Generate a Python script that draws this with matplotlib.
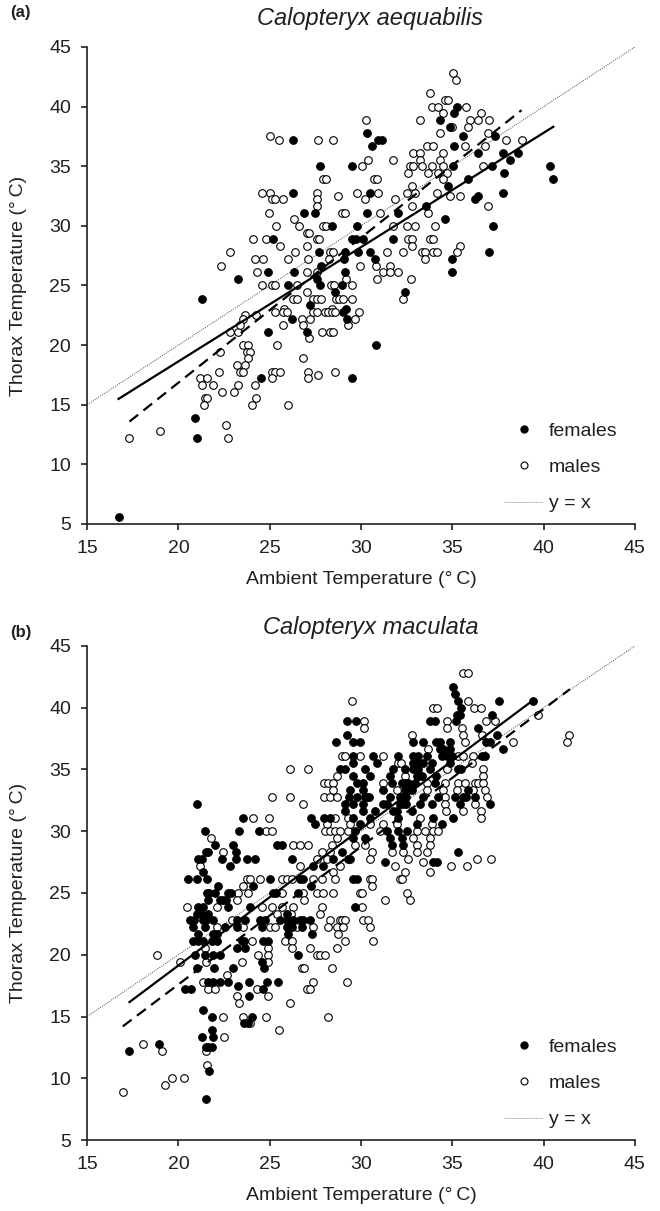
import numpy as np
import matplotlib
matplotlib.use('Agg')
import matplotlib.pyplot as plt
from matplotlib.lines import Line2D

plt.rcParams['font.family'] = ['Liberation Sans', 'DejaVu Sans']

INK = '#231f20'

# ---------------- DATA: panel (a) Calopteryx aequabilis ----------------
a_females = [
    (26.26, 37.22), (27.75, 35.0), (26.26, 32.78), (26.88, 31.11), (27.48, 31.11),
    (28.39, 30.0), (25.2, 28.89), (27.72, 27.78), (29.12, 27.78), (27.79, 26.67),
    (29.07, 27.22), (24.89, 26.11), (26.33, 26.11), (29.12, 26.11), (23.28, 25.56),
    (27.57, 25.56), (25.98, 25.0), (27.75, 25.0), (28.94, 25.0), (21.28, 23.89),
    (28.58, 24.44), (27.2, 23.33), (29.2, 23.0),
    (35.27, 40.0), (35.11, 39.44), (34.32, 38.89), (30.34, 37.78), (30.95, 37.22),
    (31.17, 37.22), (30.58, 36.67), (34.87, 38.33), (37.33, 37.5), (35.6, 37.5),
    (35.09, 36.67), (36.42, 36.11), (37.75, 36.11), (38.15, 35.56), (38.61, 36.11),
    (40.34, 35.0), (40.53, 33.89), (35.05, 35.0), (37.15, 35.0), (29.49, 35.0),
    (37.83, 34.44), (35.87, 33.89), (34.78, 33.33), (30.49, 32.78), (37.79, 32.78),
    (33.56, 31.67), (36.24, 32.22), (36.42, 32.5), (30.34, 31.11), (32.04, 31.11),
    (29.8, 30.0), (34.6, 30.56), (37.24, 30.0), (29.49, 28.89), (29.7, 28.89),
    (30.12, 28.89), (31.77, 28.89), (29.85, 27.78), (30.49, 27.78), (37.02, 27.78),
    (30.76, 27.22), (34.96, 27.22), (34.96, 26.11), (32.41, 24.44),
    (26.24, 22.22), (29.03, 22.78), (29.22, 22.22), (27.03, 21.11), (24.93, 21.11),
    (24.51, 17.22), (29.49, 17.22), (30.82, 20.0), (20.91, 13.89), (21.0, 12.22),
    (16.72, 5.56),
]
a_males = [
    (25.02, 37.5), (25.51, 37.22), (27.66, 37.22), (28.45, 37.22), (27.94, 33.89),
    (28.1, 33.89), (24.56, 32.78), (25.02, 32.78), (27.61, 32.78), (25.11, 32.22),
    (25.28, 32.22), (25.75, 32.22), (27.61, 32.22), (28.72, 32.5), (27.61, 31.67),
    (24.98, 31.11), (28.94, 31.11), (29.12, 31.11), (25.35, 30.0), (26.33, 30.56),
    (26.62, 30.0), (27.9, 30.0), (28.08, 30.0), (27.02, 29.44), (27.17, 29.44),
    (24.1, 28.89), (24.78, 28.89), (27.57, 28.89), (27.72, 28.89), (25.56, 28.33),
    (27.02, 28.33), (22.83, 27.78), (26.39, 27.78), (28.3, 27.78), (28.48, 27.78),
    (22.33, 26.67), (24.2, 27.22), (24.65, 27.22), (26.02, 27.22), (27.12, 27.22),
    (28.26, 27.22), (24.29, 26.11), (27.02, 26.11), (27.57, 26.11), (29.18, 25.56),
    (24.56, 25.0), (25.11, 25.0), (25.29, 25.0), (26.48, 25.0), (28.34, 25.0),
    (28.52, 25.0), (26.26, 23.89), (26.48, 23.89), (27.39, 23.89), (27.61, 23.89),
    (27.81, 23.89), (28.63, 23.89), (28.81, 23.89), (28.99, 23.89), (27.02, 24.44),
    (25.8, 23.0), (28.39, 23.0),
    (35.02, 42.78), (35.2, 42.22), (33.77, 41.11), (33.87, 40.0), (34.23, 40.0),
    (34.6, 40.56), (34.78, 40.56), (35.75, 40.0), (34.5, 39.44), (36.55, 39.44),
    (30.27, 38.89), (33.23, 38.89), (35.97, 38.89), (36.42, 38.89), (37.02, 38.89),
    (34.96, 38.33), (35.87, 38.33), (34.3, 37.78), (36.97, 37.78), (37.94, 37.22),
    (38.79, 37.22), (33.59, 36.67), (33.92, 36.67), (35.69, 36.67), (36.79, 36.67),
    (32.86, 36.11), (33.23, 36.11), (34.5, 36.11), (33.23, 35.56), (34.32, 35.56),
    (30.4, 35.56), (31.73, 35.56), (32.68, 35.0), (32.86, 35.0), (33.32, 35.0),
    (33.87, 35.0), (34.5, 35.0), (36.69, 35.0), (30.03, 35.0), (32.59, 34.44),
    (33.68, 34.44), (34.23, 34.44), (34.72, 34.44), (30.71, 33.89), (30.86, 33.89),
    (34.5, 33.89), (32.77, 33.33), (29.76, 32.78), (30.95, 32.78), (32.53, 32.78),
    (32.95, 32.78), (34.18, 32.78), (30.22, 32.22), (31.86, 32.22), (34.87, 32.5),
    (35.42, 32.5), (36.97, 31.67), (32.77, 31.67), (31.04, 31.11), (33.68, 31.11),
    (31.77, 30.0), (32.5, 30.0), (32.95, 30.0), (34.05, 30.0), (32.59, 28.89),
    (32.77, 28.89), (33.77, 28.89), (33.96, 28.89), (31.4, 27.78), (32.32, 27.78),
    (32.77, 28.33), (33.32, 27.78), (33.5, 27.78), (33.96, 27.78), (34.14, 27.78),
    (33.5, 27.22), (35.42, 28.33), (35.23, 27.78), (29.94, 26.67), (30.82, 26.67),
    (31.58, 26.67), (31.22, 26.11), (31.58, 26.11), (32.04, 26.11), (30.85, 25.56),
    (32.72, 25.56), (29.49, 25.0), (29.49, 23.89), (32.28, 23.89),
    (25.29, 22.78), (25.75, 22.78), (25.93, 22.78), (26.75, 22.22), (27.21, 22.22),
    (27.39, 22.78), (27.57, 22.78), (28.03, 22.78), (28.21, 22.78), (28.39, 22.78),
    (28.58, 22.78), (29.91, 22.78), (29.67, 22.22), (29.31, 21.67), (23.65, 22.5),
    (23.56, 22.22), (24.23, 22.5), (25.75, 21.67), (26.84, 21.67), (27.17, 20.56),
    (27.85, 21.11), (28.3, 21.11), (28.48, 21.11), (22.83, 21.11), (23.28, 21.11),
    (23.38, 21.67), (25.42, 20.0), (23.52, 20.0), (23.83, 20.0), (23.74, 19.44),
    (23.92, 19.44), (22.28, 19.44), (23.83, 18.89), (23.19, 18.33), (23.65, 18.33),
    (23.38, 17.78), (23.55, 17.78), (22.24, 17.78), (21.19, 17.22), (21.55, 17.22),
    (21.28, 16.67), (21.92, 16.67), (23.28, 16.67), (21.46, 15.56), (21.55, 15.56),
    (21.41, 15.0), (22.37, 16.11), (23.05, 16.11), (24.2, 16.67), (24.01, 15.0),
    (24.23, 15.56), (25.11, 17.78), (25.29, 17.78), (25.57, 17.78), (25.11, 17.22),
    (26.84, 18.89), (27.12, 17.78), (27.12, 17.22), (27.66, 17.5), (28.58, 17.78),
    (26.02, 15.0), (17.32, 12.22), (18.99, 12.78), (22.61, 13.33), (22.74, 12.22),
]
# fitted lines (end points)
a_fit_solid_x = [16.72, 40.53]
a_fit_solid_y = [15.49, 38.31]
a_fit_dash_x = [17.32, 38.79]
a_fit_dash_y = [13.59, 39.7]

# ---------------- DATA: panel (b) Calopteryx maculata ----------------
b_females = [
    (29.25, 38.89), (29.25, 37.78), (28.63, 37.22), (28.85, 35.0), (29.12, 35.0),
    (29.36, 32.78), (21.0, 32.22), (29.12, 32.22), (29.12, 31.67), (23.56, 31.11),
    (27.24, 31.11), (27.97, 31.11), (28.3, 31.11), (27.48, 30.56), (21.46, 30.0),
    (23.34, 30.0), (24.43, 30.0), (22.01, 28.89), (23.01, 28.89), (25.38, 28.89),
    (25.65, 28.89), (21.5, 28.33), (21.64, 28.33), (23.16, 28.33), (28.94, 28.33),
    (21.09, 27.78), (21.28, 27.78), (22.37, 27.78), (23.16, 27.78), (23.74, 27.78),
    (24.2, 27.78), (26.2, 27.78), (28.48, 27.78), (29.3, 27.78), (22.83, 27.22),
    (27.39, 27.22), (27.94, 27.22), (21.37, 26.67), (20.55, 26.11), (21.0, 26.11),
    (21.59, 26.11), (25.02, 26.11), (26.66, 26.11), (26.8, 26.11), (22.19, 25.56),
    (24.1, 25.56), (27.24, 25.56), (21.55, 25.0), (21.68, 25.0), (22.01, 25.0),
    (22.74, 25.0), (22.9, 25.0), (25.2, 25.0), (25.35, 25.0), (26.56, 25.0),
    (35.02, 41.67), (35.14, 41.11), (35.33, 40.56), (37.57, 40.56), (39.4, 40.56),
    (35.45, 40.0), (35.23, 39.44), (35.42, 39.44), (37.15, 39.44), (29.72, 38.89),
    (33.77, 38.89), (34.05, 38.89), (35.2, 38.89), (36.42, 38.33), (37.42, 37.78),
    (29.58, 37.22), (29.94, 37.22), (32.86, 37.22), (33.41, 37.22), (34.1, 37.22),
    (34.32, 37.22), (34.87, 37.22), (36.84, 37.22), (37.06, 37.22), (34.32, 36.67),
    (34.5, 36.67), (34.87, 36.67), (37.75, 36.67), (29.58, 36.11), (30.67, 36.11),
    (32.04, 36.11), (32.86, 36.11), (33.14, 36.11), (33.59, 36.11), (34.41, 36.11),
    (34.69, 36.11), (34.96, 36.11), (36.6, 36.11), (36.79, 36.11), (29.58, 35.56),
    (30.85, 35.56), (32.86, 35.56), (33.14, 35.56), (33.41, 35.56), (33.87, 35.56),
    (34.87, 35.56), (30.22, 35.0), (31.77, 35.0), (32.41, 35.0), (32.86, 35.0),
    (33.0, 35.0), (33.14, 35.0), (33.77, 35.0), (35.33, 35.0), (35.5, 35.0),
    (29.58, 34.44), (30.49, 34.44), (31.58, 34.44), (33.05, 34.44), (33.2, 34.44),
    (33.35, 34.44), (34.1, 34.44), (29.76, 33.89), (30.12, 33.89), (31.68, 33.89),
    (32.22, 33.89), (32.4, 33.89), (32.55, 33.89), (32.95, 33.89), (34.05, 33.89),
    (29.4, 33.33), (30.12, 33.33), (31.22, 33.33), (32.41, 33.33), (32.59, 33.33),
    (32.77, 33.33), (35.87, 33.33), (29.76, 32.78), (30.22, 32.78), (30.31, 32.78),
    (30.45, 32.78), (31.58, 32.78), (32.13, 32.78), (32.3, 32.78), (32.45, 32.78),
    (33.41, 32.78), (34.23, 32.78), (35.14, 32.78), (35.6, 32.78), (35.75, 32.78),
    (36.24, 32.78), (29.58, 32.22), (30.12, 32.22), (31.22, 32.22), (31.4, 32.22),
    (32.13, 32.22), (32.3, 32.22), (32.45, 32.22), (33.23, 32.22), (33.87, 32.22),
    (35.42, 32.22), (37.06, 32.22), (30.12, 31.67), (30.76, 31.67), (31.77, 31.67),
    (31.95, 31.67), (32.77, 31.67), (29.58, 31.11), (30.49, 31.11), (32.04, 31.11),
    (33.96, 31.11), (35.05, 31.11), (29.94, 30.56), (33.05, 30.56), (34.41, 30.56),
    (29.67, 30.0), (31.4, 30.0), (32.04, 30.0), (32.5, 30.0), (29.58, 29.44),
    (30.22, 29.44), (31.58, 29.44), (32.22, 29.44), (31.68, 28.89), (32.32, 28.89),
    (35.33, 28.33), (29.4, 27.78), (31.31, 27.5), (33.96, 27.5), (34.14, 27.5),
    (29.58, 26.11), (29.76, 26.11),
    (21.64, 24.44), (22.3, 24.44), (22.46, 24.44), (22.6, 24.44), (21.09, 23.89),
    (21.33, 23.89), (22.74, 23.89), (23.92, 23.89), (29.67, 23.89), (21.0, 23.33),
    (21.22, 23.33), (21.64, 23.33), (25.93, 23.33), (20.64, 22.78), (20.86, 22.78),
    (21.37, 22.78), (21.5, 22.78), (21.92, 22.78), (23.19, 22.78), (23.65, 22.78),
    (24.47, 22.78), (24.75, 22.78), (25.57, 22.78), (25.93, 22.78), (26.3, 22.78),
    (26.66, 22.78), (26.8, 22.78), (27.21, 22.78), (20.82, 22.22), (21.46, 22.22),
    (22.55, 22.22), (23.19, 22.22), (24.56, 22.22), (25.93, 22.22), (26.05, 22.22),
    (26.2, 22.22), (26.75, 22.22), (21.09, 21.67), (21.92, 21.67), (22.1, 21.67),
    (26.02, 21.67), (27.3, 21.67), (20.82, 21.11), (21.09, 21.11), (21.37, 21.11),
    (21.82, 21.11), (22.1, 21.11), (23.47, 21.11), (23.6, 21.11), (24.65, 21.11),
    (24.93, 21.11), (23.19, 20.56), (23.65, 20.56), (20.91, 20.0), (21.46, 20.0),
    (21.92, 20.0), (22.28, 20.0), (26.57, 20.0), (24.56, 19.44), (21.04, 18.89),
    (21.95, 18.89), (22.97, 18.89), (24.69, 18.89), (21.64, 17.78), (21.92, 17.78),
    (22.28, 17.78), (22.74, 17.78), (23.28, 17.5), (23.87, 17.78), (24.84, 17.78),
    (25.47, 17.78), (20.37, 17.22), (20.68, 17.22), (24.65, 17.22), (23.87, 16.67),
    (21.33, 15.56), (21.86, 15.0), (24.01, 15.0), (23.6, 14.44), (23.83, 14.44),
    (21.86, 13.89), (21.3, 13.33), (21.92, 13.33), (18.94, 12.78), (21.51, 12.5),
    (21.64, 12.5), (21.82, 12.5), (17.3, 12.22), (21.7, 10.56), (21.51, 8.33),
]
b_males = [
    (29.49, 40.56), (28.94, 36.11), (29.12, 36.11), (26.11, 35.0), (27.12, 35.0),
    (28.67, 34.44), (27.97, 33.89), (28.21, 33.89), (28.48, 33.89), (28.48, 33.33),
    (25.11, 32.78), (26.11, 32.78), (27.97, 32.78), (28.3, 32.78), (28.67, 32.78),
    (26.8, 32.22), (24.07, 31.11), (24.98, 31.11), (28.57, 31.11), (29.3, 31.11),
    (28.12, 30.56), (24.8, 30.0), (25.11, 30.0), (28.03, 30.0), (28.3, 30.0),
    (28.57, 30.0), (28.85, 30.0), (29.3, 30.0), (21.79, 29.44), (28.7, 29.44),
    (26.26, 28.89), (26.66, 28.89), (27.12, 28.89), (28.39, 28.89), (22.46, 28.33),
    (27.84, 28.33), (28.3, 28.33), (27.57, 27.78), (28.12, 27.78), (21.18, 27.22),
    (26.66, 27.22), (28.85, 27.22), (28.48, 26.67), (23.74, 26.11), (23.92, 26.11),
    (24.47, 26.11), (25.65, 26.11), (25.93, 26.11), (26.2, 26.11), (27.39, 26.11),
    (27.84, 26.11), (28.57, 26.11), (23.56, 25.56), (23.28, 25.0), (23.83, 25.0),
    (25.65, 25.0), (26.84, 25.0), (27.57, 25.0), (27.94, 25.0), (28.48, 25.0),
    (35.6, 42.78), (35.87, 42.78), (35.87, 40.56), (33.96, 40.0), (34.14, 40.0),
    (36.18, 40.0), (36.57, 40.0), (39.67, 39.44), (30.16, 38.89), (34.69, 38.89),
    (36.84, 38.89), (37.33, 38.89), (30.16, 38.33), (34.69, 38.33), (35.51, 38.33),
    (32.77, 37.78), (35.6, 37.78), (36.6, 37.78), (41.4, 37.78), (35.69, 37.22),
    (38.3, 37.22), (41.26, 37.22), (33.68, 36.67), (29.94, 36.11), (31.22, 36.11),
    (35.33, 36.11), (35.6, 36.11), (36.15, 36.11), (32.04, 35.56), (32.2, 35.56),
    (36.06, 35.56), (34.69, 35.0), (36.66, 35.0), (32.41, 34.44), (36.66, 34.44),
    (31.22, 33.89), (33.59, 33.89), (34.6, 33.89), (35.33, 33.89), (35.69, 33.89),
    (36.24, 33.89), (36.4, 33.89), (36.69, 33.89), (31.95, 33.33), (33.59, 33.33),
    (34.5, 33.33), (35.23, 33.33), (36.15, 33.33), (36.79, 33.33), (34.6, 32.78),
    (36.88, 32.78), (34.6, 32.22), (36.24, 32.22), (34.65, 31.67), (35.56, 31.67),
    (36.55, 31.67), (33.23, 31.11), (36.55, 31.11), (29.4, 30.56), (30.49, 30.56),
    (31.22, 30.56), (31.95, 30.56), (33.87, 30.56), (31.04, 30.0), (33.05, 30.0),
    (33.5, 30.0), (33.96, 30.0), (34.23, 30.0), (32.86, 29.44), (33.77, 29.44),
    (29.67, 28.89), (30.22, 28.89), (33.05, 28.89), (33.77, 28.89), (30.58, 28.33),
    (31.68, 28.33), (32.32, 28.33), (33.05, 28.33), (33.59, 28.33), (30.49, 27.78),
    (32.59, 27.78), (36.37, 27.78), (37.1, 27.78), (31.86, 27.22), (33.41, 27.5),
    (34.92, 27.22), (35.78, 27.22), (32.41, 26.67), (33.77, 26.67), (30.49, 26.11),
    (30.6, 26.11), (32.13, 26.11), (32.25, 26.11), (30.58, 25.56), (29.94, 25.0),
    (30.05, 25.0), (32.5, 25.0), (31.31, 24.44), (32.68, 24.44),
    (23.19, 24.44), (26.88, 24.44), (20.46, 23.89), (22.1, 23.89), (24.56, 23.89),
    (25.11, 23.89), (25.66, 23.89), (26.3, 23.89), (27.85, 23.89), (30.04, 23.89),
    (25.38, 23.33), (26.15, 23.33), (27.76, 23.33), (22.92, 22.78), (28.3, 22.78),
    (28.85, 22.78), (28.95, 22.78), (29.12, 22.78), (30.13, 22.78), (30.4, 22.78),
    (22.1, 22.22), (23.56, 22.22), (25.02, 22.22), (25.29, 22.22), (26.48, 22.22),
    (27.39, 22.22), (28.21, 22.22), (28.67, 22.22), (29.03, 22.22), (30.49, 22.22),
    (28.76, 21.67), (24.01, 21.11), (25.84, 21.11), (26.2, 21.11), (29.12, 21.11),
    (30.68, 21.11), (21.46, 20.56), (24.93, 20.56), (26.2, 20.56), (27.21, 20.56),
    (28.67, 20.56), (18.81, 20.0), (24.38, 20.0), (24.93, 20.0), (27.57, 20.0),
    (27.76, 20.0), (28.03, 20.0), (20.06, 19.44), (21.51, 19.44), (23.47, 19.44),
    (24.93, 19.44), (26.75, 18.89), (26.88, 18.89), (28.43, 18.89), (22.65, 18.33),
    (21.37, 17.78), (27.39, 17.78), (29.22, 17.78), (21.64, 17.22), (22.01, 17.22),
    (24.29, 17.22), (27.03, 17.22), (27.21, 17.22), (23.23, 16.67), (24.93, 16.67),
    (23.34, 16.11), (26.11, 16.11), (22.46, 15.0), (23.56, 15.0), (24.8, 15.0),
    (28.21, 15.0), (23.9, 14.44), (25.53, 13.89), (22.5, 13.33), (18.08, 12.78),
    (19.12, 12.22), (21.51, 12.22), (21.55, 11.11), (19.64, 10.0), (20.31, 10.0),
    (19.27, 9.44), (16.95, 8.89),
]
b_fit_solid_x = [17.32, 39.4]
b_fit_solid_y = [16.17, 40.58]
b_fit_dash_x = [16.95, 41.44]
b_fit_dash_y = [14.2, 41.5]

x_ticks = [15, 20, 25, 30, 35, 40, 45]
y_ticks = [5, 10, 15, 20, 25, 30, 35, 40, 45]
identity = [15, 45]


def draw_panel(ax, fem, mal, sx, sy, dx, dy):
    fem = np.array(fem)
    mal = np.array(mal)
    ax.plot(identity, identity, color='#444444', lw=0.7, ls=(0, (1, 1.3)), zorder=1)
    ax.scatter(mal[:, 0], mal[:, 1], s=30, facecolors='white', edgecolors='black',
               linewidths=0.8, zorder=2, clip_on=False)
    ax.scatter(fem[:, 0], fem[:, 1], s=30, facecolors='black', edgecolors='black',
               linewidths=0.8, zorder=3, clip_on=False)
    ax.plot(sx, sy, color='black', lw=1.6, zorder=4)
    ax.plot(dx, dy, color='black', lw=1.6, dashes=(5, 3), zorder=4)

    ax.set_xlim(15, 45)
    ax.set_ylim(5, 45)
    ax.set_xticks(x_ticks)
    ax.set_yticks(y_ticks)
    for s in ['top', 'right']:
        ax.spines[s].set_visible(False)
    for s in ['left', 'bottom']:
        ax.spines[s].set_linewidth(1.2)
        ax.spines[s].set_color(INK)
    ax.tick_params(direction='out', length=4.5, width=1.2, color=INK,
                   labelsize=14, labelcolor=INK, pad=7)
    ax.set_xlabel('Ambient Temperature (\u00b0\u2009C)', fontsize=14, color=INK, labelpad=10)
    ax.set_ylabel('Thorax Temperature (\u00b0\u2009C)', fontsize=14, color=INK, labelpad=16)

    handles = [
        Line2D([], [], ls='none', marker='o', ms=5, mfc='black', mec='black'),
        Line2D([], [], ls='none', marker='o', ms=5, mfc='white', mec='black', mew=0.8),
        Line2D([], [], color='#888888', lw=0.6, ls=(0, (1, 0.8))),
    ]
    ax.legend(handles, ['females', 'males', 'y = x'], loc='lower right',
              bbox_to_anchor=(0.99, 0.0), frameon=False, fontsize=14,
              handlelength=2.0, handletextpad=0.3, labelspacing=0.95,
              borderaxespad=0.2, labelcolor=INK)


fig = plt.figure(figsize=(6.6, 12.11), dpi=100)
ax_a = fig.add_axes([0.132, 0.5673, 0.830, 0.3939])
ax_b = fig.add_axes([0.132, 0.0586, 0.830, 0.4080])

draw_panel(ax_a, a_females, a_males, a_fit_solid_x, a_fit_solid_y, a_fit_dash_x, a_fit_dash_y)
draw_panel(ax_b, b_females, b_males, b_fit_solid_x, b_fit_solid_y, b_fit_dash_x, b_fit_dash_y)

fig.text(0.561, 0.985, 'Calopteryx aequabilis', fontsize=17, style='italic',
         ha='center', va='center', color=INK)
fig.text(0.561, 0.482, 'Calopteryx maculata', fontsize=17, style='italic',
         ha='center', va='center', color=INK)
fig.text(0.015, 0.99, '(a)', fontsize=12, fontweight='bold', ha='left', va='center', color=INK)
fig.text(0.015, 0.478, '(b)', fontsize=12, fontweight='bold', ha='left', va='center', color=INK)

fig.savefig('out.png', dpi=100)
